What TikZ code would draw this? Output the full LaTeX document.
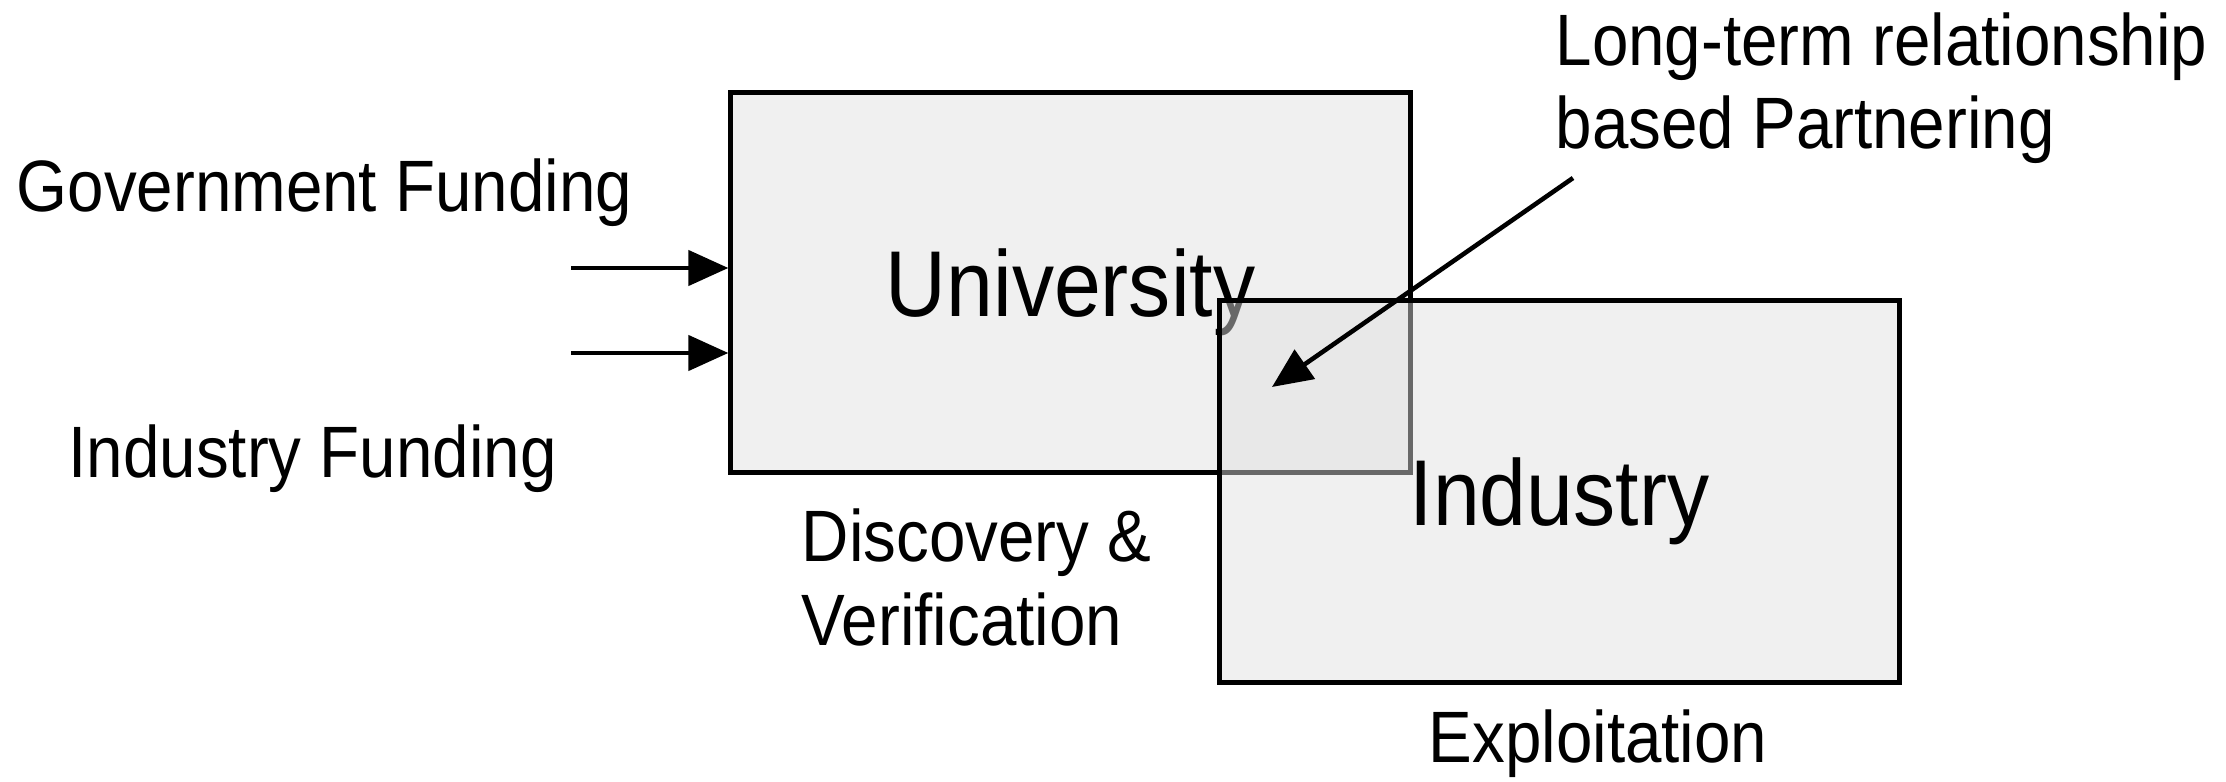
\documentclass[tikz,border=0pt]{standalone}
\usepackage{fontspec}
\setmainfont{Liberation Sans}[FakeStretch=0.9]
\usetikzlibrary{arrows.meta}
\definecolor{unifill}{RGB}{240,240,240}
\definecolor{indfill}{RGB}{223,223,223}
\begin{document}
\begin{tikzpicture}[x=0.01cm,y=-0.01cm,
  box/.style={draw=black, line width=1.4pt, rectangle, inner sep=0pt,
    minimum width=6.79cm, font=\fontsize{26.6}{30}\selectfont,
    text height=0.67cm, text depth=0cm},
  lbl/.style={inner sep=0pt, font=\fontsize{20.7}{23.7}\selectfont,
    anchor=base west, align=left},
  arr/.style={-{Triangle[length=0.4cm,width=0.35cm]}, line width=1.3pt},
]
\useasboundingbox (0,0) rectangle (2226,782);
\node[box, fill=unifill, minimum height=3.79cm] (uni) at (1070.5,282.5) {University};
\node[box, fill=indfill, fill opacity=0.47, text opacity=1, minimum height=3.81cm] (ind) at (1559.5,491.5) {Industry};

\node[lbl] (gov) at (16,212) {Government Funding};
\node[lbl] (indf) at (68,478) {Industry Funding};
\node[lbl] (disc) at (801,645) {Discovery \&\\Verification};
\node[lbl] (expl) at (1428,762) {Exploitation};
\node[lbl] (ltr) at (1555,149) {Long-term relationship\\based Partnering};

\coordinate (g1) at (571,268);
\coordinate (g2) at (571,353);
\draw[arr] (g1) -- (g1 -| uni.west);
\draw[arr] (g2) -- (g2 -| uni.west);

\coordinate (ls) at (1573,178);
\coordinate (lt) at (1272,387);
\draw[arr] (ls) -- (lt);
\end{tikzpicture}
\end{document}
